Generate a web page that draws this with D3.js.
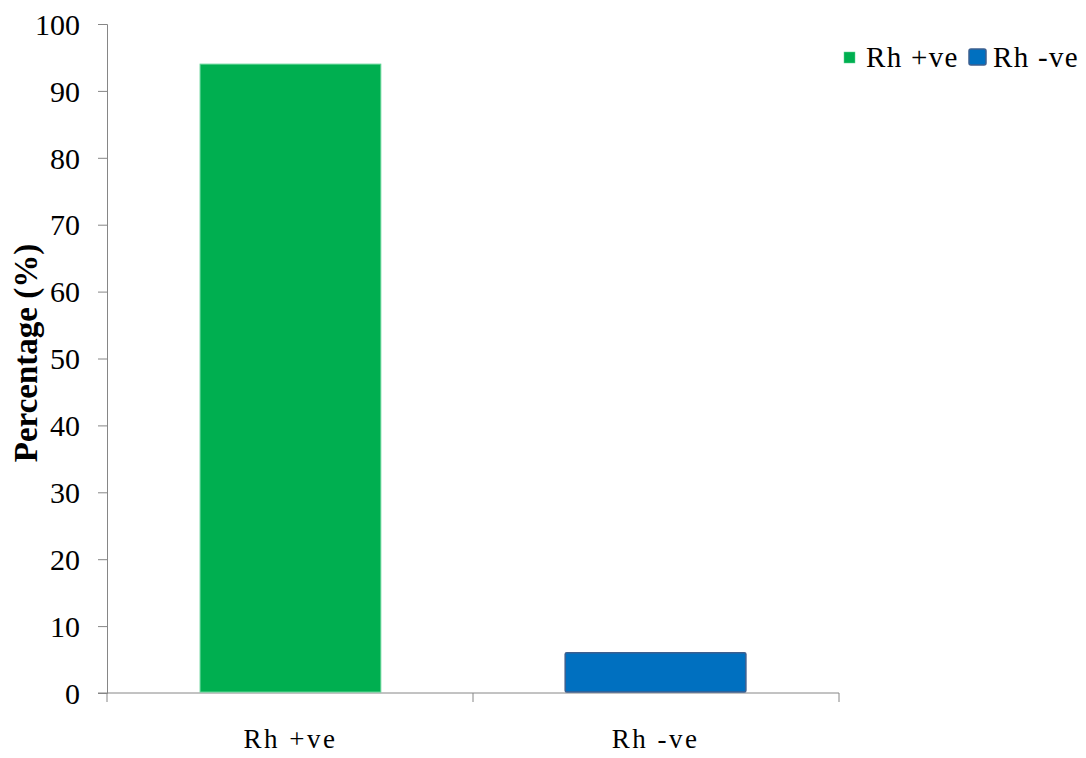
<!DOCTYPE html>
<html>
<head>
<meta charset="utf-8">
<script src="https://cdn.jsdelivr.net/npm/d3@7"></script>
<style>
  html, body { margin: 0; padding: 0; background: #fff; }
  svg { display: block; }
  text { font-family: "Liberation Serif", "Times New Roman", serif; fill: #000; }
</style>
</head>
<body>
<svg id="chart" width="1086" height="758"></svg>
<script>
// Rh blood group distribution
const categories = ["Rh +ve", "Rh -ve"];
const percentages = [94, 6];
const yTicks = [0, 10, 20, 30, 40, 50, 60, 70, 80, 90, 100];
const colors = ["#00AF50", "#0070C0"];
const strokes = ["#5fd494", "#3c5f8f"];

const svg = d3.select("#chart");
const plotLeft = 107, plotRight = 839, plotTop = 24, plotBottom = 693;

const x = d3.scaleBand().domain(categories).range([plotLeft, plotRight]).paddingInner(0.505).paddingOuter(0.255);
const y = d3.scaleLinear().domain([0, 100]).range([plotBottom, plotTop]);

// y axis
const yAxis = d3.axisLeft(y).tickValues(yTicks).tickSize(9).tickPadding(18);
const gy = svg.append("g").attr("transform", `translate(${plotLeft},0)`).call(yAxis);
gy.select(".domain").attr("stroke", "#868686").attr("stroke-width", 1);
gy.selectAll(".tick line").attr("stroke", "#868686");
gy.selectAll(".tick text").style("font-size", "30px").attr("dy", "0.34em");

// x axis: baseline with category boundary ticks
const gx = svg.append("g");
gx.append("line").attr("x1", plotLeft - 9).attr("x2", plotRight).attr("y1", plotBottom).attr("y2", plotBottom)
  .attr("stroke", "#868686");
const boundaries = [plotLeft, (x(categories[0]) + x.bandwidth() + x(categories[1])) / 2, plotRight];
gx.selectAll("line.b").data(boundaries).join("line").attr("class", "b")
  .attr("x1", d => d).attr("x2", d => d).attr("y1", plotBottom).attr("y2", plotBottom + 9)
  .attr("stroke", "#868686");
gx.selectAll("text").data(categories).join("text")
  .attr("x", d => x(d) + x.bandwidth() / 2).attr("y", 748)
  .attr("text-anchor", "middle").style("font-size", "27px").style("letter-spacing", "2.5px")
  .text(d => d);

// bars
svg.selectAll("rect.bar").data(categories).join("rect").attr("class", "bar")
  .attr("x", d => x(d)).attr("width", x.bandwidth())
  .attr("y", (d, i) => y(percentages[i])).attr("height", (d, i) => y(0) - y(percentages[i]) - 1)
  .attr("fill", (d, i) => colors[i])
  .attr("stroke", (d, i) => strokes[i]).attr("stroke-width", (d, i) => i === 0 ? 1 : 1.5)
  .attr("rx", (d, i) => i === 0 ? 0 : 1.5);

// y axis title
svg.append("text").attr("transform", "translate(37,353) rotate(-90)")
  .attr("text-anchor", "middle").style("font-size", "33px").style("font-weight", "bold")
  .text("Percentage (%)");

// legend
const legend = svg.append("g");
legend.append("rect").attr("x", 844).attr("y", 52).attr("width", 11).attr("height", 11)
  .attr("fill", colors[0]).attr("stroke", strokes[0]).attr("stroke-width", 0.5);
legend.append("text").attr("x", 866).attr("y", 67).style("font-size", "29px").style("letter-spacing", "1.3px")
  .text(categories[0]);
legend.append("rect").attr("x", 969).attr("y", 49).attr("width", 17).attr("height", 16).attr("rx", 2)
  .attr("fill", colors[1]).attr("stroke", strokes[1]).attr("stroke-width", 1.5);
legend.append("text").attr("x", 993).attr("y", 67).style("font-size", "29px").style("letter-spacing", "1.3px")
  .text(categories[1]);
</script>
</body>
</html>
